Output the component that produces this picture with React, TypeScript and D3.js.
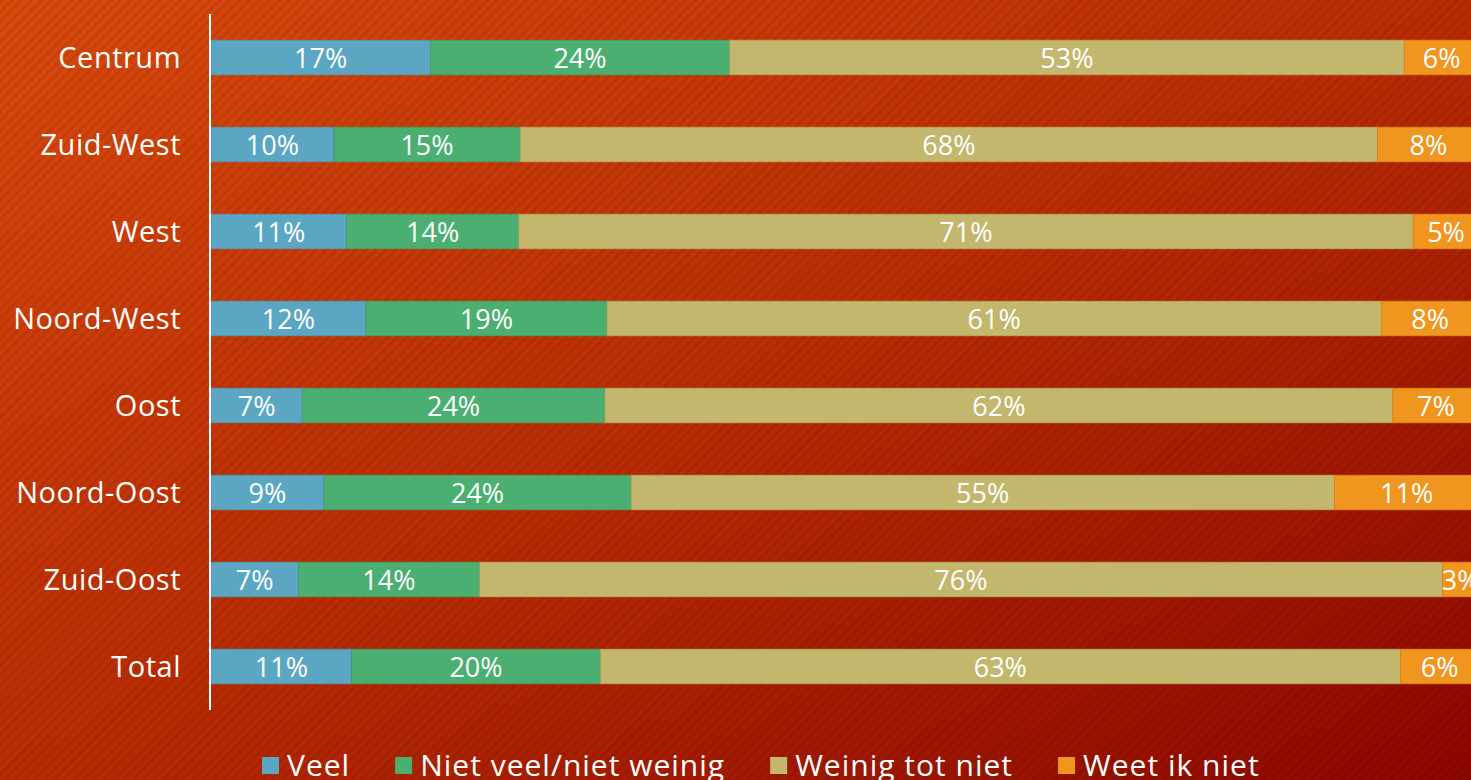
import React, { useEffect, useRef } from "react";
import * as d3 from "d3";

const categories = [
  "Centrum",
  "Zuid-West",
  "West",
  "Noord-West",
  "Oost",
  "Noord-Oost",
  "Zuid-Oost",
  "Total",
];
const seriesNames = ["Veel", "Niet veel/niet weinig", "Weinig tot niet", "Weet ik niet"];
const veel = [17.3, 9.7, 10.7, 12.2, 7.2, 8.9, 6.9, 11.1];
const nietVeel = [23.6, 14.7, 13.6, 19.0, 23.9, 24.2, 14.3, 19.6];
const weinig = [53.2, 67.7, 70.6, 61.0, 62.2, 55.4, 76.0, 63.1];
const weetNiet = [5.9, 8.0, 5.2, 7.7, 6.8, 11.4, 2.9, 6.2];

const colors = ["#5ba6c3", "#4caf72", "#c2b76d", "#f0951d"];

const App = () => {
  const ref = useRef<SVGSVGElement>(null);

  useEffect(() => {
    const width = 1471;
    const height = 780;
    const font = "'Open Sans', sans-serif";

    const svg = d3.select(ref.current);
    svg.selectAll("*").remove();
    svg.attr("width", width).attr("height", height);

    const defs = svg.append("defs");
    const grad = defs
      .append("linearGradient")
      .attr("id", "bg")
      .attr("x1", 0)
      .attr("y1", 0)
      .attr("x2", 1)
      .attr("y2", 1);
    grad.append("stop").attr("offset", "0%").attr("stop-color", "#d94a0c");
    grad.append("stop").attr("offset", "50%").attr("stop-color", "#b92c04");
    grad.append("stop").attr("offset", "100%").attr("stop-color", "#8c0700");

    const pat = defs
      .append("pattern")
      .attr("id", "stripes")
      .attr("patternUnits", "userSpaceOnUse")
      .attr("width", 7)
      .attr("height", 7)
      .attr("patternTransform", "rotate(45)");
    pat
      .append("rect")
      .attr("width", 3)
      .attr("height", 7)
      .attr("fill", "#000")
      .attr("opacity", 0.07);

    svg.append("rect").attr("width", width).attr("height", height).attr("fill", "url(#bg)");
    svg.append("rect").attr("width", width).attr("height", height).attr("fill", "url(#stripes)");

    const rows = categories.map((c, i) => ({
      category: c,
      [seriesNames[0]]: veel[i],
      [seriesNames[1]]: nietVeel[i],
      [seriesNames[2]]: weinig[i],
      [seriesNames[3]]: weetNiet[i],
    }));

    const stack = d3
      .stack<any>()
      .keys(seriesNames)
      .offset(d3.stackOffsetExpand);
    const series = stack(rows);

    const x = d3.scaleLinear().domain([0, 1]).range([211, 1479]);
    const y = d3
      .scaleBand()
      .domain(categories)
      .range([14, 710])
      .paddingInner(0.6)
      .paddingOuter(0.3);

    const color = d3.scaleOrdinal<string>().domain(seriesNames).range(colors);

    const groups = svg
      .selectAll("g.series")
      .data(series)
      .join("g")
      .attr("class", "series")
      .attr("fill", (d) => color(d.key));

    groups
      .selectAll("rect")
      .data((d) => d.map((p) => ({ p, key: d.key })))
      .join("rect")
      .attr("x", (d) => x(d.p[0]))
      .attr("y", (d) => y(d.p.data.category)!)
      .attr("width", (d) => x(d.p[1]) - x(d.p[0]))
      .attr("height", y.bandwidth())
      .attr("stroke", (d) => d3.color(color(d.key))!.darker(0.4).toString())
      .attr("stroke-width", 0.6);

    groups
      .selectAll("text")
      .data((d) => d.map((p) => ({ p, key: d.key })))
      .join("text")
      .attr("x", (d) => (x(d.p[0]) + x(d.p[1])) / 2)
      .attr("y", (d) => y(d.p.data.category)! + y.bandwidth() / 2)
      .attr("dy", "0.4em")
      .attr("text-anchor", "middle")
      .attr("fill", "white")
      .attr("font-family", font)
      .attr("font-size", "27px")
      .text((d) => `${Math.round(d.p.data[d.key])}%`);

    // category labels
    svg
      .append("g")
      .selectAll("text")
      .data(categories)
      .join("text")
      .attr("x", 181)
      .attr("y", (d) => y(d)! + y.bandwidth() / 2)
      .attr("dy", "0.37em")
      .attr("text-anchor", "end")
      .attr("fill", "white")
      .attr("font-family", font)
      .attr("font-size", "29px")
      .attr("letter-spacing", "0.5px")
      .text((d) => d);

    // axis line
    svg
      .append("line")
      .attr("x1", 210)
      .attr("x2", 210)
      .attr("y1", 14)
      .attr("y2", 710)
      .attr("stroke", "white")
      .attr("stroke-width", 2);

    // legend
    const legend = svg.append("g");
    let lx = 262;
    seriesNames.forEach((name) => {
      legend
        .append("rect")
        .attr("x", lx)
        .attr("y", 757)
        .attr("width", 17)
        .attr("height", 17)
        .attr("fill", color(name));
      const t = legend
        .append("text")
        .attr("x", lx + 25)
        .attr("y", 776)
        .attr("fill", "white")
        .attr("font-family", font)
        .attr("font-size", "30px")
        .attr("letter-spacing", "1px")
        .text(name);
      const w = (t.node() as SVGTextElement).getComputedTextLength();
      lx += 25 + w + 45;
    });
  }, []);

  return (
    <div style={{ position: "absolute", top: 0, left: 0, lineHeight: 0 }}>
      <svg ref={ref}></svg>
    </div>
  );
};

export default App;
